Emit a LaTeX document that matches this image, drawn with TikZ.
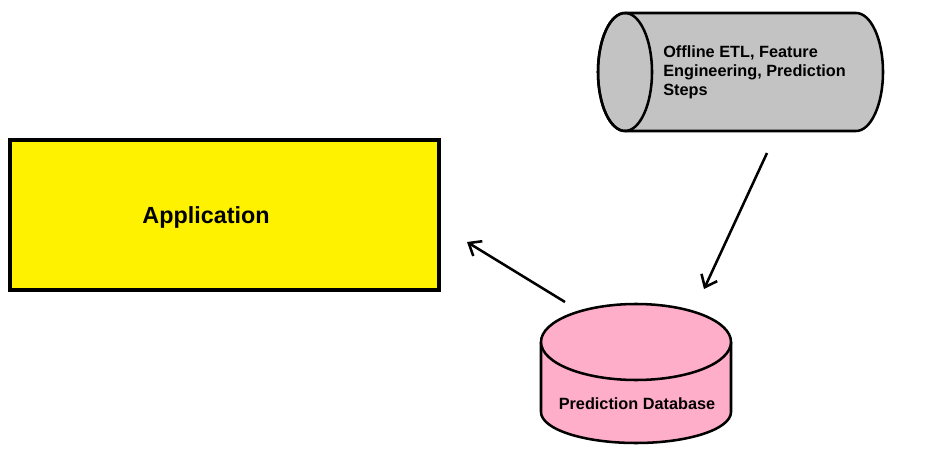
\documentclass[tikz,border=0pt]{standalone}
\usepackage{fontspec}
\setmainfont{Liberation Sans}
\usepackage{xcolor}
\usetikzlibrary{arrows.meta}
\definecolor{appyellow}{RGB}{255,242,0}
\definecolor{etlgray}{RGB}{195,195,195}
\definecolor{dbpink}{RGB}{255,174,201}

\begin{document}
\begin{tikzpicture}[x=0.75pt, y=0.75pt,
    flow/.style={line width=1.9pt, -{Straight Barb[length=8pt, width=13pt]}},
    lbl/.style={inner sep=0pt, font=\bfseries\fontsize{12.2}{14.3}\selectfont}]
    %own code
    \useasboundingbox (0,0) rectangle (925,454);

    % application box
    \draw[fill=appyellow, line width=2.8pt] (10,164) rectangle (439,314);
    \node[inner sep=0pt, font=\bfseries\fontsize{17.5}{20}\selectfont] (app) at (206,237) {Application};

    % offline cylinder
    \draw[fill=etlgray, line width=1.9pt] (625,441) -- (856,441) arc[start angle=90, end angle=-90, x radius=27, y radius=59] -- (625,323) arc[start angle=270, end angle=90, x radius=27, y radius=59] -- cycle;
    \draw[line width=1.9pt] (625,382) ellipse[x radius=27, y radius=59];
    \node[lbl, anchor=west, align=left] (etl) at (663,382) {Offline ETL, Feature\\Engineering, Prediction\\Steps};

    % database
    \draw[fill=dbpink, line width=1.9pt] (541,112) -- (541,42) arc[start angle=180, end angle=360, x radius=95, y radius=31] -- (731,112);
    \draw[fill=dbpink, line width=1.9pt] (636,112) ellipse[x radius=95, y radius=38];
    \node[lbl] (db) at (637,50) {Prediction Database};

    \coordinate (etl out) at (767,301);
    \coordinate (db in) at (704,165);
    \coordinate (db out) at (565,152);
    \coordinate (app in) at (467,212);

    \draw[flow] (etl out) -- (db in);
    \draw[flow] (db out) -- (app in);

\end{tikzpicture}
\end{document}
